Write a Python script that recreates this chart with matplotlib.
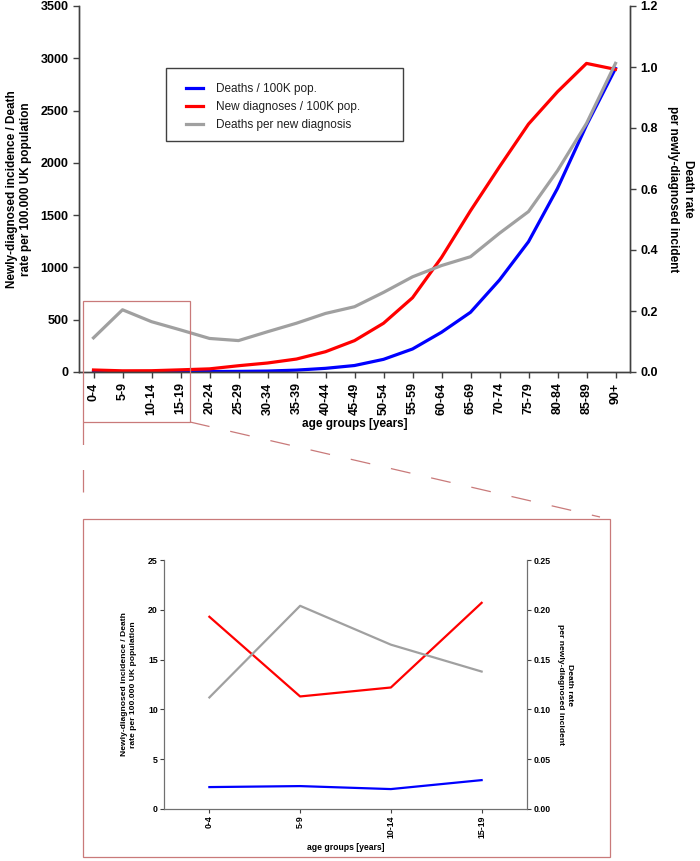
import matplotlib
matplotlib.use("Agg")
import matplotlib.pyplot as plt
from matplotlib.patches import Rectangle
from matplotlib.lines import Line2D

plt.rcParams['font.family'] = ['Liberation Sans', 'DejaVu Sans']

age_groups = ["0-4", "5-9", "10-14", "15-19", "20-24", "25-29", "30-34", "35-39",
              "40-44", "45-49", "50-54", "55-59", "60-64", "65-69", "70-74",
              "75-79", "80-84", "85-89", "90+"]
deaths_per_100k = [2.2, 2.3, 2.0, 2.9, 4, 6, 9, 18, 35, 62, 121, 220, 380, 571,
                   880, 1246, 1756, 2360, 2903]
new_diag_per_100k = [19.3, 11.3, 12.2, 20.7, 30, 60, 86, 124, 194, 300, 466, 710,
                     1095, 1542, 1963, 2371, 2680, 2951, 2894]
deaths_per_diag = [0.112, 0.204, 0.165, 0.138, 0.110, 0.103, 0.132, 0.160, 0.192,
                   0.214, 0.261, 0.312, 0.349, 0.378, 0.455, 0.526, 0.660, 0.815, 1.012]
n_inset = 4

BLUE = '#0000ff'
RED = '#ff0000'
GRAY = '#a0a0a0'
BOX = '#c97a7a'
SPINE = '#404040'

W, H = 700, 861
fig = plt.figure(figsize=(W / 100, H / 100), dpi=100)


def fx(x):
    return x / W


def fy(y):
    return 1 - y / H


def style_axes(ax, ax2, fs, tick_len, lw_sp, pad):
    for a in (ax, ax2):
        a.spines['top'].set_visible(False)
        for s in ('left', 'right', 'bottom'):
            a.spines[s].set_linewidth(lw_sp)
            a.spines[s].set_color(SPINE)
    ax.tick_params(axis='both', labelsize=fs, length=tick_len, width=lw_sp, color=SPINE,
                   pad=pad)
    ax2.tick_params(axis='y', labelsize=fs, length=tick_len, width=lw_sp, color=SPINE,
                    pad=pad)
    for lab in ax.get_xticklabels() + ax.get_yticklabels() + ax2.get_yticklabels():
        lab.set_fontweight('bold')


# ---------------- main chart ----------------
ax = fig.add_axes([fx(79), fy(372), fx(630) - fx(79), fy(6) - fy(372)])
ax2 = ax.twinx()
x = list(range(len(age_groups)))
l1, = ax.plot(x, deaths_per_100k, color=BLUE, lw=2.3, label='Deaths / 100K pop.')
l2, = ax.plot(x, new_diag_per_100k, color=RED, lw=2.3, label='New diagnoses / 100K pop.')
l3, = ax2.plot(x, deaths_per_diag, color=GRAY, lw=2.3, label='Deaths per new diagnosis')
ax.set_xlim(-0.5, len(age_groups) - 0.5)
ax.set_ylim(0, 3500)
ax.set_yticks(range(0, 3501, 500))
ax2.set_ylim(0, 1.2)
ax2.set_yticks([0, 0.2, 0.4, 0.6, 0.8, 1.0, 1.2])
ax2.set_yticklabels(['0.0', '0.2', '0.4', '0.6', '0.8', '1.0', '1.2'])
ax.set_xticks(x)
ax.set_xticklabels(age_groups, rotation=90)
style_axes(ax, ax2, 9, 4, 1.0, 3.5)
ax.set_xlabel('age groups [years]', fontsize=8.5, fontweight='bold', labelpad=2)
ax.set_ylabel('Newly-diagnosed incidence / Death\nrate per 100.000 UK population',
              fontsize=8.5, fontweight='bold', labelpad=6, linespacing=1.3)
ax2.set_ylabel('Death rate\nper newly-diagnosed incident', fontsize=8.5,
               fontweight='bold', rotation=270, labelpad=26, linespacing=1.3)
leg = ax.legend(handles=[l1, l2, l3], loc='upper left',
                bbox_to_anchor=(fx(186), fy(83)),
                bbox_transform=fig.transFigure, fontsize=8.5,
                frameon=False, handlelength=1.45, handletextpad=1.05,
                borderpad=0, labelspacing=0.5, borderaxespad=0)
for t in leg.get_texts():
    t.set_color('#202020')
fig.add_artist(Rectangle((fx(166), fy(141)), fx(403) - fx(166), fy(68) - fy(141),
                         transform=fig.transFigure, fill=False, edgecolor='#404040',
                         lw=1.0, zorder=5))

# ---------------- zoom decorations ----------------
fig.add_artist(Rectangle((fx(83), fy(422)), fx(190) - fx(83), fy(301) - fy(422),
                         transform=fig.transFigure, fill=False, edgecolor=BOX, lw=0.9))
fig.add_artist(Line2D([fx(190), fx(600)], [fy(422), fy(517)], transform=fig.transFigure,
                      color=BOX, lw=0.9, dashes=(16, 17)))
fig.add_artist(Line2D([fx(83), fx(83)], [fy(422), fy(497)], transform=fig.transFigure,
                      color=BOX, lw=0.9, dashes=(18, 20)))
fig.add_artist(Rectangle((fx(83), fy(857)), fx(610) - fx(83), fy(519) - fy(857),
                         transform=fig.transFigure, fill=False, edgecolor=BOX, lw=0.9))

# ---------------- inset chart ----------------
bx = fig.add_axes([fx(164), fy(809), fx(527) - fx(164), fy(560) - fy(809)])
bx2 = bx.twinx()
xi = list(range(n_inset))
bx.plot(xi, deaths_per_100k[:n_inset], color=BLUE, lw=1.6)
bx.plot(xi, new_diag_per_100k[:n_inset], color=RED, lw=1.6)
bx2.plot(xi, deaths_per_diag[:n_inset], color=GRAY, lw=1.6)
bx.set_xlim(-0.5, n_inset - 0.5)
bx.set_ylim(0, 25)
bx.set_yticks(range(0, 26, 5))
bx2.set_ylim(0, 0.25)
bx2.set_yticks([0, 0.05, 0.10, 0.15, 0.20, 0.25])
bx2.set_yticklabels(['0.00', '0.05', '0.10', '0.15', '0.20', '0.25'])
bx.set_xticks(xi)
bx.set_xticklabels(age_groups[:n_inset], rotation=90)
style_axes(bx, bx2, 6.3, 3, 0.8, 1.5)
for s in ('left', 'right', 'bottom'):
    bx.spines[s].set_color('#606060')
    bx2.spines[s].set_color('#707070')
bx.set_xlabel('age groups [years]', fontsize=6.2, fontweight='bold', labelpad=4)
bx.set_ylabel('Newly-diagnosed incidence / Death\nrate per 100.000 UK population',
              fontsize=6.1, fontweight='bold', labelpad=8, linespacing=1.3)
bx2.set_ylabel('Death rate\nper newly-diagnosed incident', fontsize=6.1,
               fontweight='bold', rotation=270, labelpad=16, linespacing=1.3)

fig.savefig('out.png', dpi=100)
